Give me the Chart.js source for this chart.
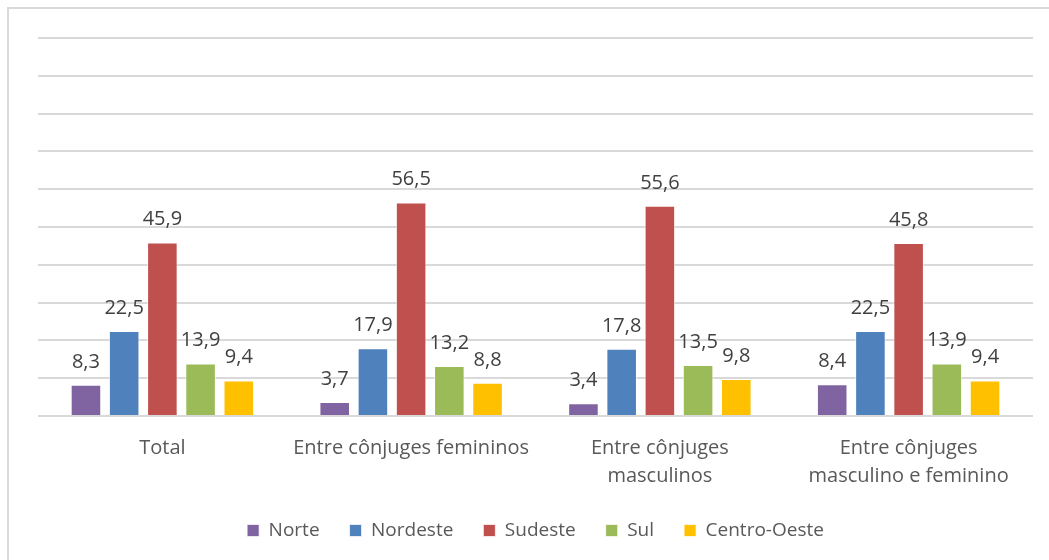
<!DOCTYPE html>
<html>
<head>
<meta charset="utf-8">
<script src="https://cdn.jsdelivr.net/npm/chart.js@4.4.1/dist/chart.umd.min.js"></script>
<style>
  html, body { margin: 0; padding: 0; background: #ffffff; }
  #wrap { position: relative; width: 1049px; height: 560px; }
</style>
</head>
<body>
<div id="wrap"><canvas id="c" width="1049" height="560"></canvas></div>
<script>
const categories = [
  "Total",
  "Entre cônjuges femininos",
  ["Entre cônjuges", "masculinos"],
  ["Entre cônjuges", "masculino e feminino"]
];
const seriesNames = ["Norte", "Nordeste", "Sudeste", "Sul", "Centro-Oeste"];
const norte = [8.3, 3.7, 3.4, 8.4];
const nordeste = [22.5, 17.9, 17.8, 22.5];
const sudeste = [45.9, 56.5, 55.6, 45.8];
const sul = [13.9, 13.2, 13.5, 13.9];
const centroOeste = [9.4, 8.8, 9.8, 9.4];
const yMin = 0, yMax = 100, yStep = 10;

const colors = ["#8064A2", "#4F81BD", "#C0504D", "#9BBB59", "#FFC000"];
const seriesValues = [norte, nordeste, sudeste, sul, centroOeste];
const FONT = "'Open Sans', 'DejaVu Sans', sans-serif";

const frame = {
  id: 'frame',
  beforeDraw(chart) {
    const ctx = chart.ctx;
    ctx.save();
    ctx.fillStyle = '#ffffff';
    ctx.fillRect(0, 0, chart.width, chart.height);
    ctx.strokeStyle = '#d9d9d9';
    ctx.lineWidth = 2;
    ctx.beginPath();
    ctx.moveTo(8, chart.height);
    ctx.lineTo(8, 8);
    ctx.lineTo(chart.width, 8);
    ctx.stroke();
    ctx.restore();
  }
};

const valueLabels = {
  id: 'valueLabels',
  afterDatasetsDraw(chart) {
    const ctx = chart.ctx;
    ctx.save();
    ctx.font = "20px " + FONT;
    ctx.fillStyle = '#404040';
    ctx.textAlign = 'center';
    ctx.textBaseline = 'alphabetic';
    chart.data.datasets.forEach((ds, di) => {
      const meta = chart.getDatasetMeta(di);
      meta.data.forEach((bar, i) => {
        const txt = ds.data[i].toFixed(1).replace('.', ',');
        ctx.fillText(txt, bar.x, bar.y - 17);
      });
    });
    ctx.restore();
  }
};

new Chart(document.getElementById('c'), {
  type: 'bar',
  data: {
    labels: categories,
    datasets: seriesNames.map((n, i) => ({
      label: n,
      data: seriesValues[i],
      backgroundColor: colors[i],
      borderColor: 'rgba(255,255,255,0.7)',
      borderWidth: 1,
      categoryPercentage: 0.768,
      barPercentage: 0.8
    }))
  },
  options: {
    responsive: false,
    animation: false,
    devicePixelRatio: 1,
    layout: { padding: { left: 38, right: 16, top: 38, bottom: 10 } },
    plugins: {
      legend: {
        position: 'bottom',
        labels: {
          boxWidth: 12,
          boxHeight: 12,
          padding: 30,
          color: '#595959',
          font: { family: FONT, size: 19 }
        }
      },
      tooltip: { enabled: false }
    },
    scales: {
      x: {
        grid: { display: false, drawTicks: false },
        border: { display: false },
        ticks: {
          color: '#595959',
          font: { family: FONT, size: 20, lineHeight: 1.4 },
          padding: 18,
          maxRotation: 0,
          autoSkip: false
        },
        afterFit(scale) { scale.height = 75; }
      },
      y: {
        min: yMin,
        max: yMax,
        border: { display: false },
        grid: { color: '#d9d9d9', lineWidth: 2, drawTicks: false },
        ticks: { display: false, stepSize: yStep },
        afterFit(scale) { scale.width = 0; }
      }
    }
  },
  plugins: [frame, valueLabels]
});
</script>
</body>
</html>
